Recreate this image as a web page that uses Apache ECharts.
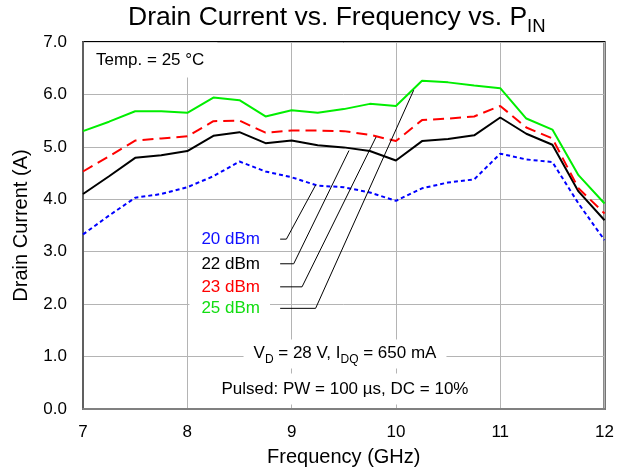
<!DOCTYPE html>
<html>
<head>
<meta charset="UTF-8"/>
<title>Drain Current vs. Frequency vs. PIN</title>
<script src="https://cdn.jsdelivr.net/npm/echarts@6/dist/echarts.min.js"></script>
<style>
    body { margin: 0; background: #fff; }
    #chart { width: 617px; height: 474px; }
</style>
</head>
<body>
<div id="chart"></div>
<script>
    // frequency points (GHz)
    const freq = [7, 7.25, 7.5, 7.75, 8, 8.25, 8.5, 8.75, 9, 9.25, 9.5, 9.75, 10,
        10.25, 10.5, 10.75, 11, 11.25, 11.5, 11.75, 12];

    // drain current (A) per input power
    const pin20 = [3.33, 3.69, 4.03, 4.10, 4.23, 4.44, 4.72, 4.53, 4.42, 4.26, 4.23,
        4.13, 3.97, 4.21, 4.32, 4.38, 4.87, 4.76, 4.71, 3.92, 3.22];
    const pin22 = [4.10, 4.44, 4.79, 4.84, 4.92, 5.21, 5.28, 5.07, 5.12, 5.03, 4.99,
        4.92, 4.74, 5.11, 5.15, 5.22, 5.56, 5.25, 5.04, 4.15, 3.60];
    const pin23 = [4.53, 4.82, 5.12, 5.16, 5.20, 5.49, 5.50, 5.27, 5.31, 5.31, 5.30,
        5.23, 5.11, 5.51, 5.54, 5.58, 5.78, 5.37, 5.16, 4.21, 3.73];
    const pin25 = [5.30, 5.48, 5.68, 5.68, 5.65, 5.94, 5.89, 5.58, 5.70, 5.65, 5.72,
        5.82, 5.78, 6.26, 6.23, 6.17, 6.12, 5.54, 5.33, 4.46, 3.92];

    // leader lines from label to curve, in axis units
    const leader20 = [[8.89, 3.24], [8.95, 3.24], [9.23, 4.27]];
    const leader22 = [[8.89, 2.77], [9.02, 2.77], [9.55, 4.93]];
    const leader23 = [[8.89, 2.33], [9.10, 2.33], [9.81, 5.19]];
    const leader25 = [[8.89, 1.92], [9.23, 1.92], [10.17, 6.08]];

    const xTicks = [7, 8, 9, 10, 11, 12];
    const yTicks = [0, 1, 2, 3, 4, 5, 6, 7];

    const FONT = '"Liberation Sans", Arial, sans-serif';

    function pairs(ys) {
        return freq.map((f, i) => [f, ys[i]]);
    }

    function leader(pts) {
        return {
            type: 'line', data: pts, symbol: 'none', silent: true, z: 4,
            lineStyle: {color: '#000', width: 1}
        };
    }

    function note(text, x, y, color, align, padding, rich) {
        return {
            type: 'text', z: 1, x: x, y: y,
            style: {
                text: text, fill: color, font: '17px ' + FONT,
                align: align, verticalAlign: 'middle',
                backgroundColor: '#fff', padding: padding, rich: rich
            }
        };
    }

    const subRich = {
        m: {fontSize: 17, fontFamily: FONT, color: '#000', verticalAlign: 'bottom', padding: [0, 0, 4, 0]},
        s: {fontSize: 12, fontFamily: FONT, color: '#000', verticalAlign: 'bottom'}
    };

    const chart = echarts.init(document.getElementById('chart'));
    chart.setOption({
        animation: false,
        title: {
            text: '{a|Drain Current vs. Frequency vs. P}{s|IN}',
            left: 128, top: 4, padding: 0,
            textStyle: {
                fontWeight: 'normal',
                rich: {
                    a: {fontSize: 26.5, fontFamily: FONT, fontWeight: 'normal', color: '#000', verticalAlign: 'bottom', padding: [0, 0, 5, 0]},
                    s: {fontSize: 18.5, fontFamily: FONT, fontWeight: 'normal', color: '#000', verticalAlign: 'bottom'}
                }
            }
        },
        grid: {left: 83, right: 10, top: 42, bottom: 65, show: true, borderColor: '#000', borderWidth: 2},
        xAxis: {
            type: 'value', min: 7, max: 12, interval: 1,
            name: 'Frequency (GHz)', nameLocation: 'middle', nameGap: 38,
            nameTextStyle: {fontSize: 20, fontFamily: FONT, color: '#000'},
            axisLine: {lineStyle: {color: '#808080', width: 2}},
            axisTick: {show: false},
            axisLabel: {fontSize: 17, fontFamily: FONT, color: '#000', margin: 15,
                customValues: xTicks},
            splitLine: {lineStyle: {color: '#b4b4b4', width: 1}}
        },
        yAxis: {
            type: 'value', min: 0, max: 7, interval: 1,
            name: 'Drain Current (A)', nameLocation: 'middle', nameGap: 52,
            nameTextStyle: {fontSize: 20, fontFamily: FONT, color: '#000'},
            axisLine: {show: true, lineStyle: {color: '#606060', width: 2}},
            axisTick: {show: false},
            axisLabel: {fontSize: 17, fontFamily: FONT, color: '#000', margin: 16,
                formatter: v => v.toFixed(1), customValues: yTicks},
            splitLine: {lineStyle: {color: '#b4b4b4', width: 1}}
        },
        graphic: [
            note('Temp. = 25 °C', 84, 60, '#000', 'left', [9, 13, 9, 12]),
            note('20 dBm', 270, 239, '#1010ff', 'right', [2, 10, 2, 12]),
            note('22 dBm', 270, 264, '#000', 'right', [2, 10, 2, 12]),
            note('23 dBm', 270, 287, '#ff0000', 'right', [2, 10, 2, 12]),
            note('25 dBm', 270, 308, '#11dd11', 'right', [2, 10, 2, 12]),
            note('{m|V}{s|D}{m| = 28 V, I}{s|DQ}{m| = 650 mA}', 345, 354, '#000', 'center', [5, 10, 3, 10], subRich),
            note('Pulsed: PW = 100 µs, DC = 10%', 345, 389, '#000', 'center', [7, 8, 7, 8])
        ],
        series: [
            {name: '20 dBm', type: 'line', data: pairs(pin20), symbol: 'none', z: 3,
                lineStyle: {color: '#0000ff', width: 2, type: [4, 3]}},
            {name: '22 dBm', type: 'line', data: pairs(pin22), symbol: 'none', z: 3,
                lineStyle: {color: '#000', width: 2}},
            {name: '23 dBm', type: 'line', data: pairs(pin23), symbol: 'none', z: 3,
                lineStyle: {color: '#ff0000', width: 2, type: [11, 6]}},
            {name: '25 dBm', type: 'line', data: pairs(pin25), symbol: 'none', z: 3,
                lineStyle: {color: '#00ee00', width: 2}},
            leader(leader20),
            leader(leader22),
            leader(leader23),
            leader(leader25)
        ]
    });
</script>
</body>
</html>
